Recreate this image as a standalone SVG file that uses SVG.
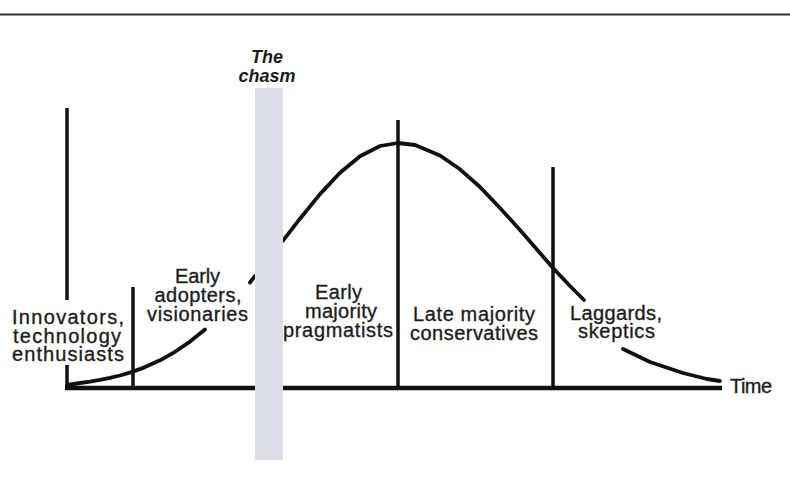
<svg xmlns="http://www.w3.org/2000/svg" width="790" height="493" viewBox="0 0 790 493">
<style>
.lbl{font-family:"Liberation Sans",Arial,sans-serif;font-size:20px;fill:#1c1c1c;stroke:#1c1c1c;stroke-width:0.35;text-anchor:middle}
.ttl{font-family:"Liberation Sans",Arial,sans-serif;font-size:18px;font-weight:bold;font-style:italic;fill:#1c1c1c;text-anchor:middle}
.ln{stroke:#111;stroke-width:3.5;fill:none}
.crv{stroke:#111;stroke-width:3.8;fill:none;stroke-linejoin:round;stroke-linecap:round}
</style>
<rect width="790" height="493" fill="#fff"/>
<line x1="0" y1="14.5" x2="790" y2="14.5" stroke="#333" stroke-width="2"/>
<g id="connectors">
<line class="ln" x1="67" y1="108" x2="67" y2="300"/>
<line class="ln" x1="67" y1="365" x2="67" y2="388"/>
<line class="ln" x1="133" y1="287" x2="133" y2="388"/>
<line class="ln" x1="398" y1="120" x2="398" y2="388"/>
<line class="ln" x1="553" y1="167" x2="553" y2="388"/>
<line x1="65" y1="388" x2="722" y2="388" stroke="#111" stroke-width="4.5"/>
<path class="crv" d="M67,385 L80,383 L90,381.6 L100,379.9 L110,377.9 L120,375.5 L133,371.6 L145,367.1 L160,360.3 L175,351.8 L190,341.6 L205,329.5"/>
<path class="crv" d="M250,282.5 L255,276"/>
<path class="crv" d="M283,240.7 L300,218.7 L320,194.1 L340,172.7 L360,156.2 L380,146 L398,143 L415,145 L440,155.5 L460,169.3 L480,187 L500,208 L520,230 L540,253 L553,268 L570,286 L584,300"/>
<path class="crv" d="M623,349 L650,362 L683,373 L707,379 L720,381"/>
</g>
<g id="chasm">
<rect x="255" y="88" width="28" height="372" fill="#dcdee7"/>
<text class="ttl" x="267" y="63">The</text>
<text class="ttl" x="267" y="82">chasm</text>
</g>
<g id="innovators">
<text class="lbl" x="68" y="324" textLength="112" lengthAdjust="spacing">Innovators,</text>
<text class="lbl" x="67" y="343" textLength="108" lengthAdjust="spacing">technology</text>
<text class="lbl" x="68" y="361" textLength="112" lengthAdjust="spacing">enthusiasts</text>
</g>
<g id="early-adopters">
<text class="lbl" x="197.5" y="283" textLength="45" lengthAdjust="spacing">Early</text>
<text class="lbl" x="198" y="302" textLength="87" lengthAdjust="spacing">adopters,</text>
<text class="lbl" x="197.5" y="321" textLength="101" lengthAdjust="spacing">visionaries</text>
</g>
<g id="early-majority">
<text class="lbl" x="338.5" y="299" textLength="47" lengthAdjust="spacing">Early</text>
<text class="lbl" x="341" y="318" textLength="72" lengthAdjust="spacing">majority</text>
<text class="lbl" x="338" y="337" textLength="110" lengthAdjust="spacing">pragmatists</text>
</g>
<g id="late-majority">
<text class="lbl" x="474" y="321" textLength="122" lengthAdjust="spacing">Late majority</text>
<text class="lbl" x="474" y="340" textLength="128" lengthAdjust="spacing">conservatives</text>
</g>
<g id="laggards">
<text class="lbl" x="616" y="320" textLength="92" lengthAdjust="spacing">Laggards,</text>
<text class="lbl" x="616.5" y="338" textLength="77" lengthAdjust="spacing">skeptics</text>
</g>
<g id="time">
<text class="lbl" x="730" y="393" style="text-anchor:start" textLength="42" lengthAdjust="spacing">Time</text>
</g>
</svg>
